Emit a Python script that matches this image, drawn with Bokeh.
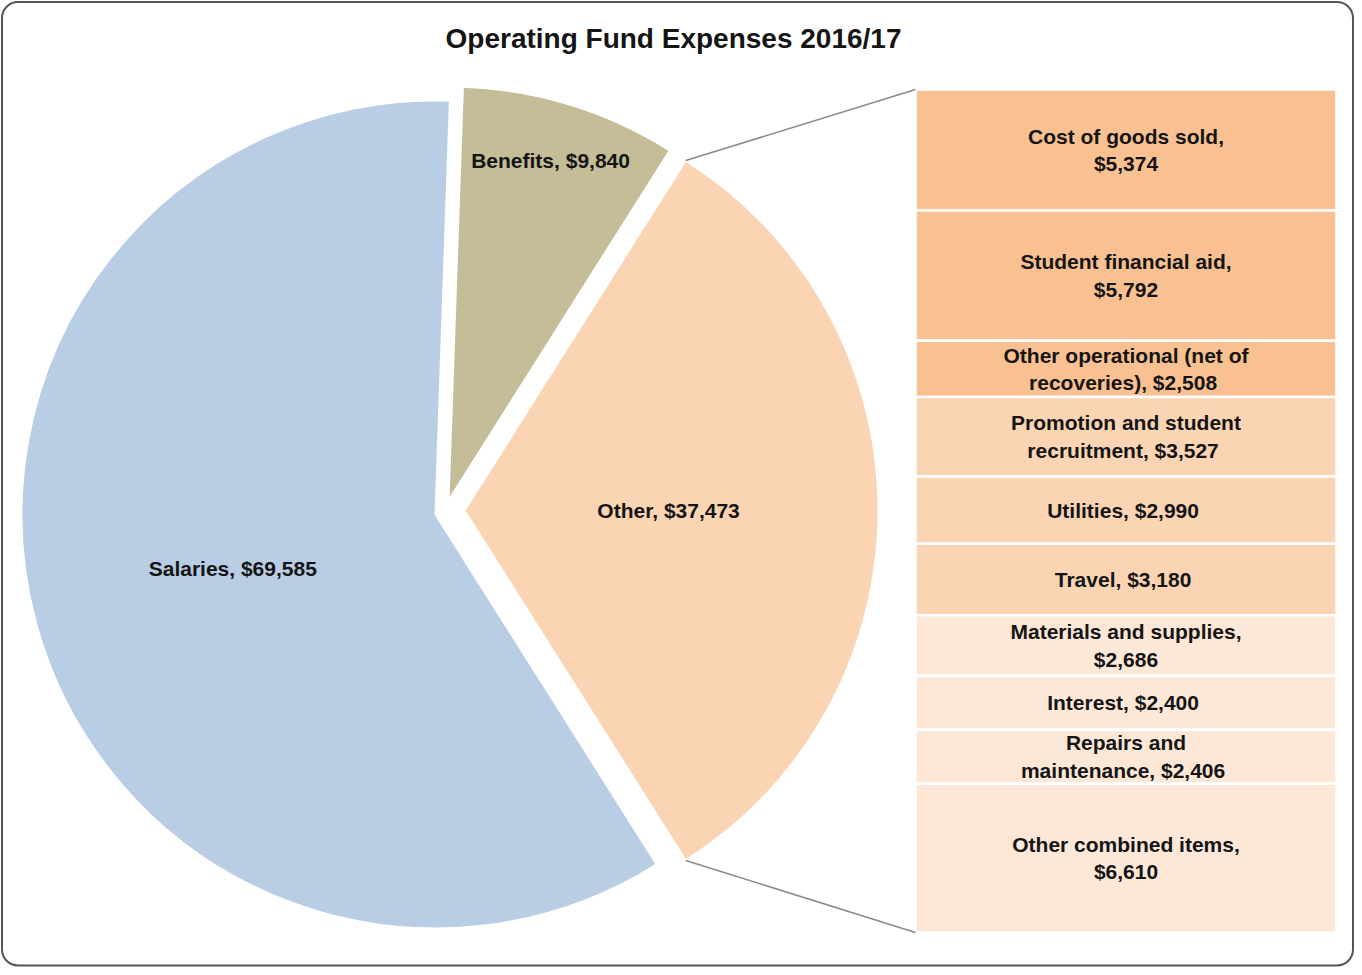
import math
from bokeh.plotting import figure
from bokeh.models import Range1d, BoxAnnotation, Label, ColumnDataSource
from bokeh.core.properties import value
from bokeh.embed import file_html
from bokeh.resources import INLINE

# ---- data ----
pie_categories = ["Salaries", "Benefits", "Other"]
pie_values = [69585, 9840, 37473]
pie_colors = ["#B9CDE5", "#C4BD97", "#FBD4B4"]

bar_categories = [
    "Cost of goods sold",
    "Student financial aid",
    "Other operational (net of\nrecoveries)",
    "Promotion and student\nrecruitment",
    "Utilities",
    "Travel",
    "Materials and supplies",
    "Interest",
    "Repairs and\nmaintenance",
    "Other combined items",
]
bar_values = [5374, 5792, 2508, 3527, 2990, 3180, 2686, 2400, 2406, 6610]
bar_value_on_new_line = [True, True, False, False, False, False, True, False, False, True]
bar_colors = ["#F9C191"] * 3 + ["#FBD4B4"] * 3 + ["#FDE7D7"] * 4

title = "Operating Fund Expenses 2016/17"

# ---- layout (reference pixel coords; data y = -pixel y) ----
W, H = 1354, 967
OX, OY = 7, 7
FONT_NAME = "Liberation Sans"
FONT = value(FONT_NAME)
TXT = "#151515"

p = figure(width=W, height=H, output_backend="svg", toolbar_location=None,
           x_axis_type=None, y_axis_type=None, min_border=0,
           x_range=Range1d(OX, OX + W), y_range=Range1d(-(OY + H), -OY))
p.outline_line_color = None
p.grid.visible = False
p.background_fill_color = "white"
p.border_fill_color = "white"

# rounded frame
p.add_layout(BoxAnnotation(left=8.5, right=1359.5, top=-8.5, bottom=-972,
                           fill_alpha=0, line_color="#555555", line_alpha=1.0,
                           line_width=2, border_radius=16))

# pie geometry
R = 414
centers = {"Salaries": (442, 521), "Benefits": (455, 507), "Other": (471, 517)}
label_factor = {"Salaries": 0.5, "Benefits": 0.86, "Other": 0.5}
total = sum(pie_values)
spans = [2 * math.pi * v / total for v in pie_values]
other_span = spans[2]
starts = {}
ends = {}
a = other_span / 2
starts["Other"], ends["Other"] = -other_span / 2, other_span / 2
starts["Benefits"], ends["Benefits"] = a, a + spans[1]
starts["Salaries"], ends["Salaries"] = a + spans[1], 2 * math.pi - other_span / 2

for cat, val, col in zip(pie_categories, pie_values, pie_colors):
    cx, cy = centers[cat]
    p.wedge(x=cx, y=-cy, radius=R, start_angle=starts[cat], end_angle=ends[cat],
            direction="anticlock", fill_color=col, line_color="white", line_width=2)
    mid = (starts[cat] + ends[cat]) / 2
    f = label_factor[cat]
    lx = cx + f * R * math.cos(mid)
    ly = -cy + f * R * math.sin(mid)
    p.text(x=[lx], y=[ly], text=[f"{cat},  ${val:,}"], text_font=FONT,
           text_font_style="bold", text_font_size="21px", text_color=TXT,
           text_align="center", text_baseline="middle")

# bar of pie
BX0, BX1, BTOP, BBOT = 922, 1343, 96, 939
scale = (BBOT - BTOP) / sum(bar_values)
tops, bots, labels = [], [], []
cum = 0
for name, v, nl in zip(bar_categories, bar_values, bar_value_on_new_line):
    t = BTOP + cum * scale
    cum += v
    b = BTOP + cum * scale
    tops.append(-t)
    bots.append(-b)
    labels.append(name + "," + ("\n" if nl else "  ") + f"${v:,}")

src = ColumnDataSource(dict(top=tops, bottom=bots, color=bar_colors, label=labels,
                            ymid=[(t + b) / 2 for t, b in zip(tops, bots)],
                            xmid=[(BX0 + BX1) / 2] * len(tops)))
p.quad(left=BX0, right=BX1, top="top", bottom="bottom", source=src,
       fill_color="color", line_color="white", line_width=2.5)
p.text(x="xmid", y="ymid", text="label", source=src, text_font=FONT,
       text_font_style="bold", text_font_size="21px", text_color=TXT,
       text_align="center", text_baseline="middle", text_line_height=1.2)

# connector lines
ocx, ocy = centers["Other"]
for ang, by in ((other_span / 2, BTOP), (-other_span / 2, BBOT)):
    sx = ocx + R * math.cos(ang)
    sy = -ocy + R * math.sin(ang)
    p.line(x=[sx, BX0], y=[sy, -by], line_color="#8a8a8a", line_width=1.5)

# title
p.add_layout(Label(x=680, y=-45, text=title, text_font=FONT_NAME, text_font_style="bold",
                   text_font_size="28px", text_color=TXT,
                   text_align="center", text_baseline="middle"))

open("out.html", "w").write(file_html(p, INLINE))
